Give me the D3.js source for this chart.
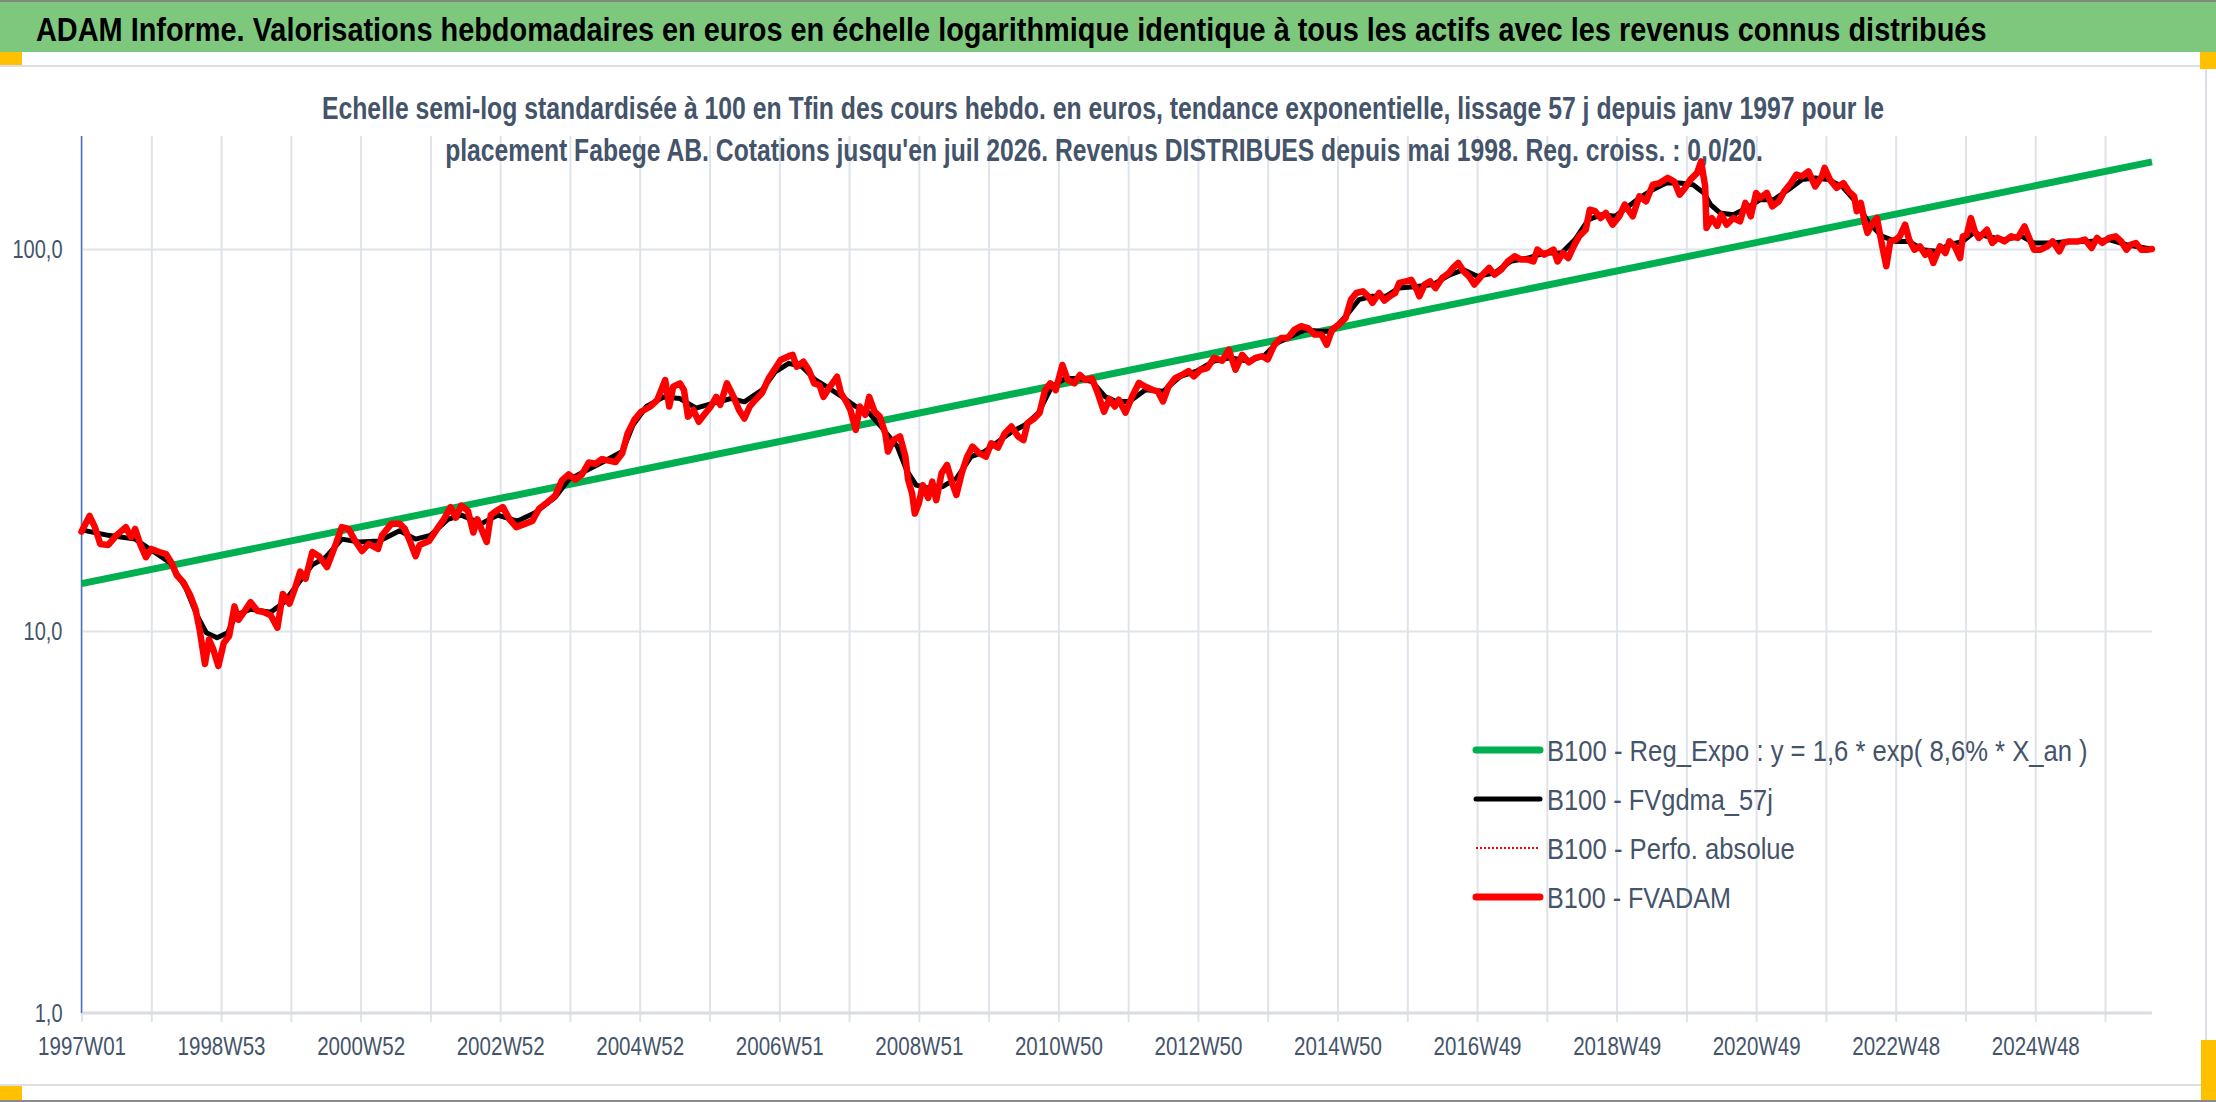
<!DOCTYPE html>
<html>
<head>
<meta charset="utf-8">
<script src="https://cdn.jsdelivr.net/npm/d3@7"></script>
<style>
  body { margin: 0; background: #fff; }
  svg { display: block; }
  text { font-family: "Liberation Sans", Arial, sans-serif; }
</style>
</head>
<body>
<div id="viz"></div>
<script>
// x = week index since 1997W01 (ISO weeks), last week = 2026W31
var lastWeek = 1543;
var xTickWeeks = [0, 104, 208, 312, 416, 520, 624, 728, 832, 936, 1040, 1144, 1248, 1352, 1456];
var xTickLabels = ['1997W01', '1998W53', '2000W52', '2002W52', '2004W52', '2006W51', '2008W51',
    '2010W50', '2012W50', '2014W50', '2016W49', '2018W49', '2020W49', '2022W48', '2024W48'];
var yTicks = [1, 10, 100];

// B100 - FVADAM (weekly)
var redWeeks = [0, 1, 6, 10, 14, 20, 26, 33, 37, 40, 44, 48, 52, 58, 63, 67, 71, 76, 81, 85, 88, 92, 95, 98, 102, 106, 110, 114, 117, 121, 126, 131, 136, 141, 146, 150, 155, 159, 163, 167, 172, 177, 183, 189, 194, 199, 204, 209, 214, 221, 224, 231, 237, 241, 245, 249, 252, 259, 265, 270, 275, 279, 283, 288, 292, 295, 298, 302, 305, 309, 314, 319, 324, 331, 336, 341, 347, 353, 358, 363, 368, 373, 378, 383, 388,
    391, 398, 403, 407, 412, 417, 424, 429, 432, 435, 438, 441, 446, 449, 452, 456, 460, 464, 469, 473, 476, 481, 486, 490, 494, 498, 502, 507, 512, 517, 521, 527, 530, 533, 538, 542, 546, 550, 553, 557, 563, 566, 570, 573, 577, 580, 584, 587, 591, 595, 599, 601, 605, 610, 614, 616, 619, 621, 624, 627, 631, 634, 637, 641, 645, 649, 652, 656, 660, 664, 669, 674, 678, 683, 688, 693, 698, 702, 705, 710, 714, 718, 722, 726, 731, 735, 740, 744, 748, 753, 757, 762, 766, 770,
    773, 778, 783, 788, 793, 798, 802, 806, 810, 815, 820, 825, 829, 834, 839, 844, 850, 855, 860, 865, 870, 875, 880, 884, 889, 894, 899, 904, 909, 914, 919, 924, 928, 932, 937, 942, 946, 950, 955, 959, 962, 967, 971, 975, 979, 982, 987, 991, 995, 997, 1001, 1005, 1009, 1014, 1019, 1022, 1026, 1030, 1034, 1038, 1043, 1049, 1053, 1058, 1063, 1068, 1073, 1078, 1082, 1085, 1090, 1097, 1100, 1104, 1108, 1112, 1116, 1121, 1124, 1128, 1132, 1136, 1141, 1146, 1150,
    1156, 1161, 1166, 1171, 1176, 1182, 1187, 1191, 1195, 1199, 1204, 1207, 1210, 1211, 1215, 1219, 1222, 1226, 1231, 1236, 1240, 1244, 1248, 1251, 1256, 1260, 1265, 1269, 1274, 1278, 1282, 1287, 1292, 1297, 1299, 1303, 1308, 1313, 1317, 1321, 1323, 1326, 1329, 1331, 1334, 1338, 1342, 1345, 1348, 1352, 1355, 1359, 1362, 1366, 1370, 1374, 1377, 1380, 1385, 1389, 1392, 1396, 1400, 1402, 1405, 1408, 1411, 1414, 1420, 1424, 1428, 1433, 1438, 1443, 1448, 1452, 1455, 1460, 1465, 1469, 1474, 1477, 1481, 1488, 1493, 1498, 1502, 1506, 1511, 1516, 1520, 1524, 1527, 1531, 1535, 1540, 1543];
var redValues = [18.2, 18.5, 20.0, 18.7, 16.9, 16.8, 17.8, 18.7, 17.6, 18.5, 16.8, 15.6, 16.4, 16.1, 15.9, 15.1, 14.0, 13.4, 12.4, 11.4, 10.1, 8.2, 9.5, 9.0, 8.1, 9.3, 9.7, 11.6, 10.7, 11.2, 11.9, 11.3, 11.2, 11.0, 10.2, 12.5, 11.8, 12.9, 14.3, 13.7, 16.1, 15.7, 14.7, 16.7, 18.7, 18.5, 17.2, 16.2, 16.9, 16.4, 17.8, 19.1, 19.1, 18.5, 17.1, 15.7, 16.8, 17.2, 18.5, 19.6, 21.1, 19.8, 21.3, 20.6, 18.1, 19.6, 18.5, 17.1, 20.1, 20.6, 21.1, 19.6, 18.7, 19.1, 19.4, 20.9, 21.7, 22.6, 24.8, 25.7, 24.9, 25.7, 27.6, 27.4, 28.2,
    28.0, 27.7, 29.2, 32.9, 35.7, 37.5, 38.7, 40.2, 42.7, 45.4, 38.7, 43.6, 44.5, 42.7, 36.4, 37.9, 35.3, 36.8, 38.7, 41.0, 39.1, 44.5, 41.0, 37.9, 36.0, 38.7, 40.2, 41.9, 45.8, 48.7, 51.2, 52.4, 52.8, 49.2, 50.7, 48.2, 44.5, 44.0, 41.0, 43.2, 46.3, 41.9, 39.8, 37.9, 33.6, 38.7, 36.8, 41.0, 37.5, 36.4, 32.9, 29.5, 31.6, 32.3, 28.6, 24.9, 22.9, 20.3, 21.6, 24.1, 22.3, 24.6, 22.0, 25.9, 27.2, 24.3, 22.7, 25.9, 28.6, 30.4, 29.2, 28.6, 31.0, 30.2, 32.9, 34.3, 32.3, 31.6, 35.0, 36.0, 37.2, 42.7, 44.5, 42.7, 49.7, 45.4, 44.5, 46.8, 45.4, 45.8, 42.3, 37.5, 40.5, 38.7,
    40.3, 37.3, 41.1, 44.6, 43.6, 42.8, 42.4, 39.9, 43.6, 45.9, 46.8, 47.9, 46.4, 48.3, 48.8, 51.9, 51.0, 54.5, 48.3, 52.8, 50.5, 51.9, 52.4, 51.4, 56.2, 58.5, 58.5, 61.5, 62.8, 62.1, 59.7, 59.7, 56.2, 61.5, 63.4, 65.9, 73.6, 76.7, 77.5, 75.2, 72.3, 76.7, 73.3, 75.2, 76.7, 81.5, 82.3, 83.0, 78.3, 75.2, 80.7, 82.3, 79.0, 84.0, 86.5, 89.2, 91.9, 87.4, 84.8, 80.7, 84.8, 89.2, 85.7, 88.3, 92.8, 95.7, 93.8, 93.8, 92.8, 99.6, 96.6, 99.6, 92.8, 97.6, 94.7, 101.6, 107.9, 112.3, 126.7, 125.6, 120.5, 124.3, 115.8, 121.8, 130.7,
    121.8, 137.4, 133.3, 147.3, 148.8, 153.5, 150.2, 138.7, 144.5, 151.9, 158.2, 169.5, 145.8, 113.5, 120.5, 115.0, 123.0, 115.8, 120.5, 118.2, 132.0, 121.8, 140.2, 136.0, 140.2, 129.3, 133.3, 141.6, 148.8, 156.6, 155.0, 159.7, 145.8, 155.0, 163.0, 151.9, 144.5, 148.8, 141.6, 137.4, 125.6, 132.0, 117.0, 110.2, 115.8, 120.5, 101.6, 90.1, 104.7, 105.8, 107.9, 115.8, 105.8, 99.6, 101.6, 96.6, 98.6, 91.9, 101.6, 97.6, 104.7, 101.6, 94.7, 107.9, 109.0, 120.5, 111.2, 106.9, 112.3, 103.7, 106.9, 104.7, 107.9, 106.9, 114.6, 105.8, 99.6, 99.6, 101.6, 104.7, 98.6, 103.7, 104.7, 104.7, 105.8, 100.6, 106.9, 103.7, 106.9, 107.9, 104.7, 99.6, 102.6, 103.7, 99.6, 99.6, 100.0];

// B100 - Perfo. absolue (lies under FVADAM on the picture)
var perfoWeeks = redWeeks;
var perfoValues = redValues;

// B100 - FVgdma_57j (smoothed)
var blackWeeks = [0, 20, 40, 53, 66, 78, 86, 93, 101, 109, 115, 126, 141, 151, 162, 172, 182, 194, 207, 222, 237, 249, 260, 273, 283, 298, 310, 325, 338, 353, 363, 378, 391, 403, 411, 421, 434, 446, 458, 471, 484, 494, 507, 517, 527, 537, 547, 557, 567, 577, 587, 597, 608, 615, 622, 632, 642, 652, 663, 673, 683, 693, 703, 713, 723, 733, 743, 753, 763, 771, 781, 793, 806, 819, 831, 844, 856, 869, 881, 891, 901, 912, 922, 932, 942, 952, 962, 972, 982, 995, 1007, 1020, 1030, 1040, 1053, 1065, 1078, 1090, 1103, 1113, 1123, 1133, 1143, 1161, 1171, 1181, 1191, 1201, 1209, 1214, 1221, 1231, 1241, 1251, 1261, 1272, 1282, 1292, 1302, 1312, 1322, 1332, 1342, 1352, 1362, 1372, 1382, 1392, 1402, 1410, 1420, 1433, 1446, 1455, 1468, 1481, 1496, 1511, 1524, 1538, 1543];
var blackValues = [18.4, 17.8, 17.4, 16.2, 15.1, 12.9, 11.0, 9.9, 9.6, 9.9, 11.0, 11.4, 11.2, 11.9, 13.4, 14.9, 15.6, 17.4, 17.1, 17.2, 18.3, 17.4, 17.8, 19.6, 20.1, 19.1, 20.1, 19.4, 20.4, 22.4, 24.9, 26.5, 28.0, 29.5, 34.6, 38.7, 41.0, 40.6, 38.3, 39.5, 40.6, 39.8, 42.7, 47.7, 50.2, 49.2, 45.4, 43.2, 41.0, 38.7, 37.2, 33.9, 30.4, 26.3, 24.1, 23.6, 23.9, 25.1, 28.6, 29.5, 31.3, 33.2, 34.6, 37.2, 43.6, 45.8, 45.8, 45.0, 41.0, 39.9, 39.9, 42.8, 42.4, 46.4, 47.9, 50.9, 51.9, 50.9, 52.4, 56.7, 59.0, 61.5, 60.9, 60.9, 66.6, 73.7, 75.2, 75.2, 79.1, 79.8, 80.7, 85.7, 88.3, 84.8, 86.5, 92.8, 94.7, 97.6, 97.6, 105.8, 119.4, 123.0, 121.8, 136.0, 143.0, 148.8, 148.8, 147.3, 140.2, 130.7, 124.3, 123.0, 128.0, 134.6, 134.6, 143.0, 151.9, 153.5, 151.9, 145.8, 133.3, 117.0, 107.9, 104.7, 104.7, 99.6, 98.6, 102.6, 104.7, 110.2, 107.9, 105.8, 107.9, 103.7, 103.7, 104.7, 104.7, 105.8, 102.6, 100.6, 100.0];

// B100 - Reg_Expo (straight on the log scale)
var trendWeeks = [0, 1543];
var trendValues = [13.3, 169];

var legendLabels = ['B100 - Reg_Expo : y = 1,6 * exp( 8,6% *  X_an )', 'B100 - FVgdma_57j', 'B100 - Perfo. absolue', 'B100 - FVADAM'];
var legendWidths = [541, 226, 248, 184];

var W = 2216, H = 1102;
var textCol = '#44546a';
var gridCol = '#dfe3ea';
var fontStack = '"Liberation Sans", Arial, sans-serif';

// the reference font is a narrow one: keep the height, squeeze the glyphs to the measured width
function squeeze(sel, target, size) {
    sel.each(function(d, i) {
        var t = d3.select(this).attr('font-size', size);
        var w = this.getComputedTextLength();
        var tw = typeof target === 'function' ? target(w, i) : target;
        var k = Math.min(1, tw / w);
        var x0 = +t.attr('x') || 0;
        t.attr('transform', 'translate(' + x0 + ',0) scale(' + k.toFixed(4) + ',1) translate(' + (-x0) + ',0)');
    });
}

var svg = d3.select('#viz').append('svg').attr('width', W).attr('height', H);

// ---- frame / header
svg.append('rect').attr('width', W).attr('height', H).attr('fill', '#fff');
svg.append('rect').attr('x', 0).attr('y', 2).attr('width', W).attr('height', 50).attr('fill', '#7ec87e');
svg.append('rect').attr('x', 0).attr('y', 0).attr('width', W).attr('height', 2).attr('fill', '#7f8a7f');
svg.append('rect').attr('x', 0).attr('y', 65).attr('width', 2207).attr('height', 2).attr('fill', '#dcdfe4');
svg.append('rect').attr('x', 0).attr('y', 1084).attr('width', 2207).attr('height', 2).attr('fill', '#dcdfe4');
svg.append('rect').attr('x', 2205).attr('y', 65).attr('width', 2).attr('height', 1021).attr('fill', '#dcdfe4');
svg.append('rect').attr('x', 0).attr('y', 1100).attr('width', W).attr('height', 2).attr('fill', '#8a8a8a');
var handles = [[0, 52, 22, 13], [2200, 52, 16, 17], [0, 1086, 22, 14], [2201, 1040, 15, 60]];
svg.selectAll('.handle').data(handles).enter().append('rect').attr('class', 'handle')
    .attr('x', d => d[0]).attr('y', d => d[1]).attr('width', d => d[2]).attr('height', d => d[3])
    .attr('fill', '#ffc000');

var title = svg.append('text').attr('x', 36).attr('y', 41)
    .attr('font-weight', 'bold').attr('fill', '#000')
    .text('ADAM Informe. Valorisations hebdomadaires en euros en échelle logarithmique identique à tous les actifs avec les revenus connus distribués');
squeeze(title, 1952, 33.5);

// ---- scales
var x = d3.scaleLinear().domain([0, lastWeek]).range([81.5, 2152]);
var y = d3.scaleLog().domain([1, 200]).range([1013, 134]);
var plotTop = 136;

// vertical grid every 52 weeks
var gridWeeks = d3.range(0, lastWeek + 1, 52);
var gx = svg.append('g').attr('transform', 'translate(0,1013)')
    .call(d3.axisBottom(x).tickValues(gridWeeks).tickSize(-(1013 - plotTop)).tickFormat(''));
gx.select('.domain').remove();
gx.selectAll('line').attr('stroke', gridCol).attr('stroke-width', 2);

var gt = svg.append('g').attr('transform', 'translate(0,1013)')
    .call(d3.axisBottom(x).tickValues(gridWeeks).tickSize(9).tickFormat(''));
gt.select('.domain').remove();
gt.selectAll('line').attr('stroke', gridCol).attr('stroke-width', 2);

// horizontal grid
var gy = svg.append('g').attr('transform', 'translate(81.5,0)')
    .call(d3.axisLeft(y).tickValues([10, 100]).tickSize(-(2152 - 81.5)).tickFormat(''));
gy.select('.domain').remove();
gy.selectAll('line').attr('stroke', gridCol).attr('stroke-width', 2);

// axis lines
svg.append('line').attr('x1', 81.5).attr('x2', 2152).attr('y1', 1013).attr('y2', 1013)
    .attr('stroke', '#d9dce2').attr('stroke-width', 3);
svg.append('line').attr('x1', 81.5).attr('x2', 81.5).attr('y1', plotTop).attr('y2', 1013)
    .attr('stroke', '#4472c4').attr('stroke-width', 1.5);

// x labels
var xl = svg.append('g').attr('transform', 'translate(0,1013)')
    .call(d3.axisBottom(x).tickValues(xTickWeeks).tickSize(0).tickPadding(24)
        .tickFormat((d, i) => xTickLabels[i]));
xl.select('.domain').remove();
xl.selectAll('text').attr('font-family', fontStack).attr('fill', textCol);
squeeze(xl.selectAll('text'), 88, 26);

// y labels
var yl = svg.append('g').attr('transform', 'translate(81.5,0)')
    .call(d3.axisLeft(y).tickValues(yTicks).tickSize(0).tickPadding(19)
        .tickFormat(d => d3.format('.1f')(d).replace('.', ',')));
yl.select('.domain').remove();
yl.selectAll('text').attr('font-family', fontStack).attr('fill', textCol);
squeeze(yl.selectAll('text'), w => w * 0.8, 25);

// subtitle
var sub1 = 'Echelle semi-log standardisée à 100 en Tfin des cours hebdo. en euros, tendance exponentielle, lissage 57 j depuis janv 1997 pour le';
var sub2 = "placement Fabege AB. Cotations jusqu'en juil 2026. Revenus DISTRIBUES depuis mai 1998. Reg. croiss. : 0,0/20.";
var s1 = svg.append('text').attr('x', 1103).attr('y', 119).attr('text-anchor', 'middle')
    .attr('font-weight', 'bold').attr('fill', textCol).text(sub1);
squeeze(s1, 1563, 31);
var s2 = svg.append('text').attr('x', 1104).attr('y', 161).attr('text-anchor', 'middle')
    .attr('font-weight', 'bold').attr('fill', textCol).text(sub2);
squeeze(s2, 1318, 31);

// ---- series
function zip(ws, vs) { return ws.map((w, i) => [w, vs[i]]); }
var line = d3.line().x(d => x(d[0])).y(d => y(d[1]));

svg.append('path').datum(zip(trendWeeks, trendValues)).attr('d', line)
    .attr('fill', 'none').attr('stroke', '#00b050').attr('stroke-width', 7);
svg.append('path').datum(zip(blackWeeks, blackValues)).attr('d', line)
    .attr('fill', 'none').attr('stroke', '#000').attr('stroke-width', 5)
    .attr('stroke-linejoin', 'round');
svg.append('path').datum(zip(perfoWeeks, perfoValues)).attr('d', line)
    .attr('fill', 'none').attr('stroke', '#ff0000').attr('stroke-width', 2)
    .attr('stroke-dasharray', '2,2');
svg.append('path').datum(zip(redWeeks, redValues)).attr('d', line)
    .attr('fill', 'none').attr('stroke', '#ff0000').attr('stroke-width', 6.5)
    .attr('stroke-linejoin', 'round').attr('stroke-linecap', 'round');

// ---- legend
var legStyles = [
    { stroke: '#00b050', width: 7, dash: null },
    { stroke: '#000', width: 5, dash: null },
    { stroke: '#ff0000', width: 2, dash: '2,2' },
    { stroke: '#ff0000', width: 7, dash: null }
];
var leg = svg.append('g').attr('transform', 'translate(1476,750)');
var rows = leg.selectAll('g').data(legendLabels).enter().append('g')
    .attr('transform', (d, i) => 'translate(0,' + (i * 49) + ')');
rows.append('line').attr('x1', 0).attr('x2', 64).attr('y1', 0).attr('y2', 0)
    .attr('stroke', (d, i) => legStyles[i].stroke)
    .attr('stroke-width', (d, i) => legStyles[i].width)
    .attr('stroke-linecap', (d, i) => legStyles[i].dash ? 'butt' : 'round')
    .attr('stroke-dasharray', (d, i) => legStyles[i].dash);
var legText = rows.append('text').attr('x', 71).attr('y', 11)
    .attr('fill', textCol).text(d => d);
squeeze(legText, (w, i) => legendWidths[i], 30);
</script>
</body>
</html>
